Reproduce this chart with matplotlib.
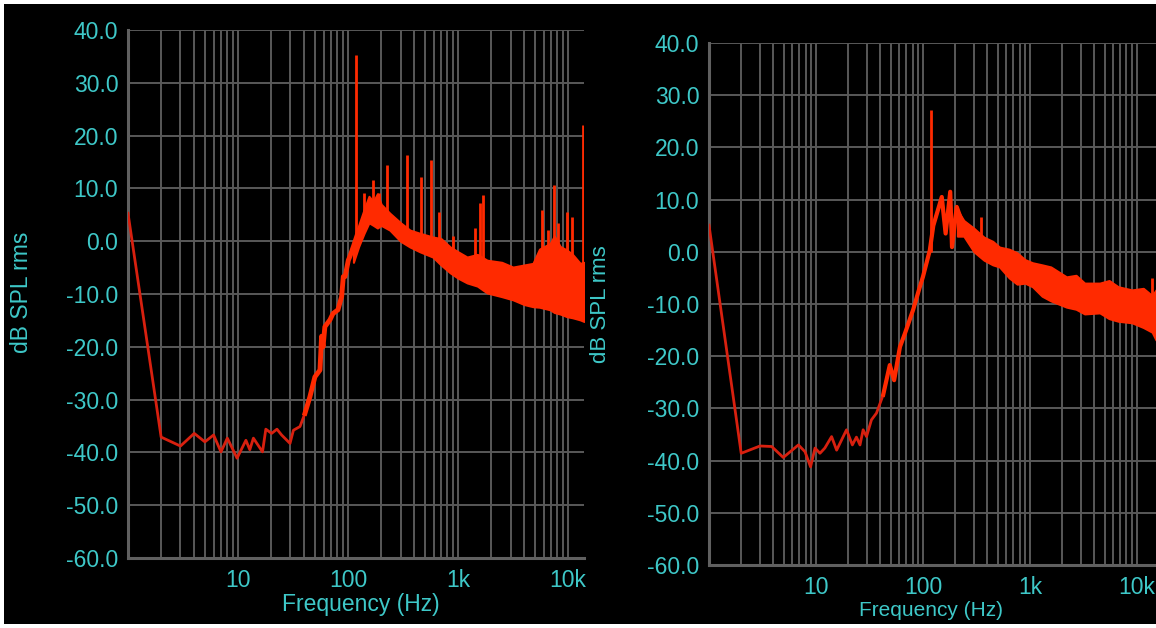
import matplotlib
matplotlib.use("Agg")
import matplotlib.pyplot as plt
import numpy as np
from matplotlib.patches import Rectangle

plt.rcParams['font.family'] = ['Liberation Sans', 'DejaVu Sans']

# ---------------- data ----------------
yticks = [40, 30, 20, 10, 0, -10, -20, -30, -40, -50, -60]
xtick_vals = [10, 100, 1000, 10000]
xtick_labels = ["10", "100", "1k", "10k"]

# Left panel: low-frequency trace
L_freq = [1.0, 2.0, 3.0, 4.0, 5.0, 6.0, 7.0, 8.0, 9.8, 11.8, 12.8, 13.8, 16.7, 17.9,
          20.2, 22.6, 24.9, 29.7, 31.9, 36.6, 40.6, 45, 50, 55.6, 57.5, 59.3, 61.6,
          68.5, 73, 81, 84, 87.5, 90.6, 94, 100.7, 104, 112, 125]
L_db = [5.3, -37.1, -38.8, -36.4, -38.0, -36.7, -39.9, -37.3, -41.1, -37.7, -39.5, -37.3,
        -39.9, -35.6, -36.4, -35.6, -36.7, -38.3, -35.8, -35.1, -32.6, -29.5, -25.7, -24.4,
        -18.0, -20.0, -16.2, -14.9, -13.7, -13.0, -11.8, -10.5, -6.7, -6.7, -3.6, -2.9,
        -1.0, 2.0]
# Left panel: noisy band envelope
L_band_f = [112, 125, 140, 155, 170, 185, 200, 240, 300, 366, 450, 590, 700, 850, 1000,
            1210, 1500, 1840, 2500, 3160, 4000, 4800, 5500, 6900, 7500, 8500, 9800,
            11000, 12900, 13970]
L_band_hi = [-1.0, 3.0, 6.0, 8.5, 7.5, 9.0, 7.0, 5.3, 3.5, 2.1, 1.5, 0.8, 0.5, -1.1, -2.0,
             -3.0, -2.5, -3.6, -4.0, -4.9, -4.5, -4.2, -1.5, -0.4, 1.0, -1.0, -1.7,
             -2.5, -4.2, -4.0]
L_band_lo = [-4.0, -1.0, 1.5, 3.5, 3.0, 2.5, 3.0, 2.1, 0.0, -1.1, -2.0, -3.0, -4.5, -6.0,
             -7.0, -7.9, -8.5, -9.8, -10.5, -11.1, -12.0, -12.4, -12.5, -13.0, -13.5,
             -13.8, -14.3, -14.5, -14.9, -15.2]
# Left panel: spikes (frequency, base dB, top dB)
L_spk_f = [118, 139, 169, 190, 228, 342, 460, 569, 677, 907, 1434, 1591, 1700,
           5740, 6590, 7420, 8070, 9690, 10800, 13700]
L_spk_base = [-1, 3, 4, 4, 3, 1, 0, -1, -2, -4, -6, -6, -6, -8, -8, -8, -8, -8, -8, -12]
L_spk_top = [35.3, 9.1, 11.6, 9.1, 14.4, 16.3, 12.2, 15.4, 5.6, 0.9, 2.5, 7.2, 8.8,
             5.9, 2.1, 10.6, 3.4, 5.6, 4.6, 22.0]

# Right panel: low-frequency trace
R_freq = [1.0, 2.0, 3.0, 3.85, 4.95, 6.85, 7.9, 8.9, 9.8, 10.9, 12.1, 14, 15.6, 19.3,
          21.9, 23.9, 25.8, 27.6, 29.7, 33, 36.8, 42.5, 49, 53.8, 61, 68, 81, 93.6,
          100, 116, 125, 150, 163, 180, 187, 207, 241]
R_db = [5.1, -38.6, -37.2, -37.3, -39.4, -37.0, -38.3, -41.2, -37.6, -38.6, -37.6, -35.4,
        -38.0, -34.1, -37.0, -35.5, -37.0, -34.1, -35.4, -32.2, -30.9, -27.4, -21.7,
        -24.6, -18.2, -15.6, -11.1, -6.7, -4.8, 0.3, 5.0, 10.5, 3.5, 11.5, 0.9, 8.6, 4.8]
# Right panel: noisy band envelope
R_band_f = [210, 241, 300, 372, 450, 520, 640, 760, 900, 1060, 1300, 1570, 2200, 2700,
            3250, 4500, 5500, 6700, 9000, 11500, 13900, 15100]
R_band_hi = [8.0, 6.0, 4.5, 2.8, 2.0, 0.9, 0.5, -0.2, -1.5, -2.1, -2.5, -2.9, -4.8, -4.5,
             -6.0, -6.0, -5.5, -6.7, -7.3, -7.0, -8.4, -7.3]
R_band_lo = [3.0, 3.0, 0.0, -1.6, -2.5, -2.9, -5.0, -6.2, -6.0, -6.7, -8.5, -9.4, -10.6,
             -11.0, -11.9, -11.7, -12.8, -13.3, -13.6, -14.5, -15.4, -16.9]
# Right panel: spikes
R_spk_f = [120, 350, 14000]
R_spk_base = [0, 2, -9]
R_spk_top = [27.2, 6.7, -5.0]

# ---------------- styling ----------------
W, H = 1156, 628
CYAN = '#3ec8c8'
GRID = '#595959'
LINE = '#d8200f'
BAND = '#ff2a00'

fig = plt.figure(figsize=(W / 100, H / 100), dpi=100, facecolor='white')
# black screen area (white strip on top, left, bottom)
fig.patches.append(Rectangle((4 / W, 4 / H), 1, (H - 8) / H, transform=fig.transFigure,
                             facecolor='black', edgecolor='none', zorder=-10))


def px_axes(x0, y0, x1, y1):
    return fig.add_axes([x0 / W, (H - y1) / H, (x1 - x0) / W, (y1 - y0) / H])


def style(ax, xmax):
    ax.set_facecolor('black')
    ax.set_xscale('log')
    ax.set_xlim(1, xmax)
    ax.set_ylim(-60, 40)
    ax.set_yticks(yticks)
    ax.set_yticklabels([f"{v:.1f}" for v in yticks])
    ax.set_xticks(xtick_vals)
    ax.set_xticklabels(xtick_labels)
    ax.xaxis.set_minor_locator(matplotlib.ticker.LogLocator(base=10, subs=np.arange(2, 10)))
    ax.xaxis.set_minor_formatter(matplotlib.ticker.NullFormatter())
    ax.grid(True, which='both', axis='x', color=GRID, lw=1.4)
    ax.grid(True, which='major', axis='y', color=GRID, lw=1.4)
    ax.tick_params(which='both', length=0, colors=CYAN, labelsize=16.5)
    ax.tick_params(axis='y', pad=7)
    ax.tick_params(axis='x', pad=8)
    for s in ['top', 'right']:
        ax.spines[s].set_visible(False)
    for s in ['left', 'bottom']:
        ax.spines[s].set_color('#606060')
        ax.spines[s].set_linewidth(2.2)
    ax.set_axisbelow(True)


# Left panel
axL = px_axes(128, 30, 584, 558)
style(axL, 13970)
axL.plot(L_freq, L_db, color=LINE, lw=2.0, solid_joinstyle='round', zorder=3)
fL = np.array(L_freq); dL = np.array(L_db)
m = fL >= 40
axL.plot(fL[m], dL[m], color=BAND, lw=3.5, zorder=3)
axL.fill_between(L_band_f, L_band_lo, L_band_hi, color=BAND, lw=1.5, edgecolor=BAND, zorder=3)
axL.vlines(L_spk_f, L_spk_base, L_spk_top, color=BAND, lw=2.0, zorder=3)
fig.text(361 / W, 1 - 605 / H, "Frequency (Hz)", color=CYAN, fontsize=16.5,
         ha='center', va='center')
fig.text(22 / W, 1 - 292 / H, "dB SPL rms", color=CYAN, fontsize=16.5,
         ha='center', va='center', rotation=90)

# Right panel
axR = px_axes(709, 43, 1156, 565)
style(axR, 15100)
axR.plot(R_freq, R_db, color=LINE, lw=2.0, solid_joinstyle='round', zorder=3)
fR = np.array(R_freq); dR = np.array(R_db)
m = fR >= 40
axR.plot(fR[m], dR[m], color=BAND, lw=3.0, zorder=3)
axR.fill_between(R_band_f, R_band_lo, R_band_hi, color=BAND, lw=1.5, edgecolor=BAND, zorder=3)
axR.vlines(R_spk_f, R_spk_base, R_spk_top, color=BAND, lw=2.0, zorder=3)
fig.text(931 / W, 1 - 611 / H, "Frequency (Hz)", color=CYAN, fontsize=15,
         ha='center', va='center')
fig.text(600 / W, 1 - 304 / H, "dB SPL rms", color=CYAN, fontsize=16,
         ha='center', va='center', rotation=90)

fig.savefig("out.png", dpi=100, facecolor=fig.get_facecolor())
